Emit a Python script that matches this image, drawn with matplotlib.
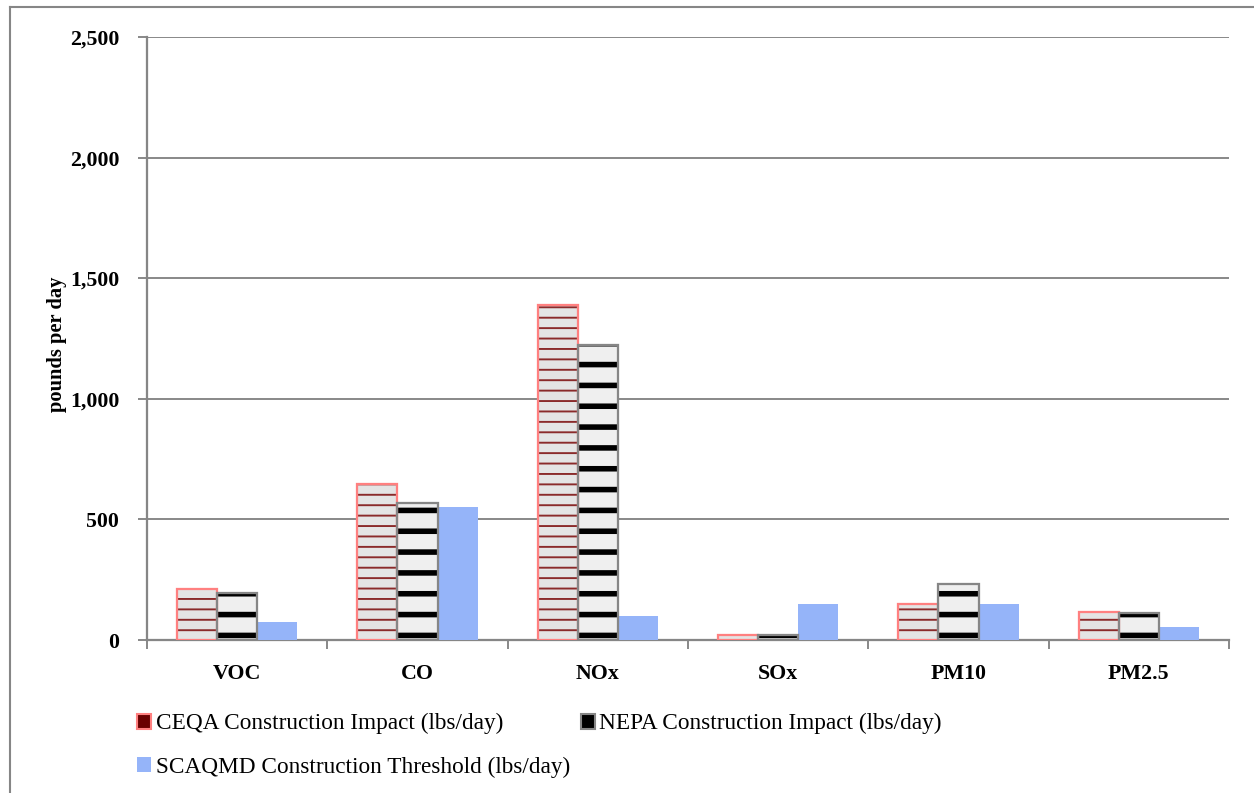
import matplotlib
matplotlib.use("Agg")
import matplotlib.pyplot as plt
import numpy as np
from matplotlib.patches import Patch
from matplotlib.lines import Line2D
from matplotlib.ticker import FuncFormatter, MultipleLocator

categories = ['VOC', 'CO', 'NOx', 'SOx', 'PM10', 'PM2.5']
ceqa = [211, 645, 1390, 20, 149, 115]
nepa = [195, 568, 1223, 20, 232, 112]
scaqmd = [75, 550, 100, 150, 150, 55]

labels = ['CEQA Construction Impact (lbs/day)',
          'NEPA Construction Impact (lbs/day)',
          'SCAQMD Construction Threshold (lbs/day)']

DPI = 125
plt.rcParams['font.family'] = ['Liberation Serif', 'DejaVu Serif']

fig = plt.figure(figsize=(1254 / DPI, 793 / DPI), dpi=DPI)
ax = fig.add_axes([147 / 1254, 1 - 640 / 793, 1082 / 1254, 603 / 793])

x = np.arange(len(categories))
w = 0.222
grey = '#868686'


def hatched(xpos, vals, fill, hcolor, hatch, hlw):
    with plt.rc_context({'hatch.linewidth': hlw}):
        bars = ax.bar(xpos, vals, w, color=fill, edgecolor=hcolor,
                      hatch=hatch, linewidth=0, zorder=3)
    for b in bars:
        try:
            b.set_hatch_linewidth(hlw)
        except AttributeError:
            pass
    return bars


# CEQA: light grey with thin dark red stripes, light red outline
hatched(x - w, ceqa, '#e4e4e4', '#8a2a2a', '--', 1.1)
ax.bar(x - w, ceqa, w, fill=False, edgecolor='#ff8080', linewidth=1.3, zorder=4)

# NEPA: near white with thick black stripes, grey outline
hatched(x, nepa, '#efefef', 'black', '-', 3.2)
ax.bar(x, nepa, w, fill=False, edgecolor=grey, linewidth=1.3, zorder=4)

# SCAQMD threshold
ax.bar(x + w, scaqmd, w, color='#95b4f9', linewidth=0, zorder=3)

ax.set_ylim(0, 2500)
ax.set_xlim(-0.5, len(categories) - 0.5)
ax.yaxis.set_major_locator(MultipleLocator(500))
ax.yaxis.set_major_formatter(FuncFormatter(lambda v, p: f'{int(v):,}'))
ax.grid(axis='y', color=grey, linewidth=1.1, zorder=0)
ax.set_axisbelow(True)

ax.set_xticks(x)
ax.set_xticklabels(categories, fontweight='bold', fontsize=12.6)
ax.set_xticks(np.arange(-0.5, len(categories)), minor=True)
ax.tick_params(axis='x', which='major', length=0, pad=14)
ax.tick_params(axis='x', which='minor', length=5, color=grey, width=1.1)
ax.tick_params(axis='y', length=5, color=grey, width=1.1, pad=11, labelsize=12.6)
for t in ax.get_yticklabels():
    t.set_fontweight('bold')

for s in ['top', 'right']:
    ax.spines[s].set_visible(False)
for s in ['left', 'bottom']:
    ax.spines[s].set_color(grey)
    ax.spines[s].set_linewidth(1.3)

ax.set_ylabel('pounds per day', fontweight='bold', fontsize=11.8)
ax.yaxis.set_label_coords(-0.074, 0.49)

h_ceqa = Patch(facecolor='#6a0000', edgecolor='#ff8080', linewidth=1.2)
h_nepa = Patch(facecolor='black', edgecolor=grey, linewidth=1.2)
h_scaq = Patch(facecolor='#95b4f9', edgecolor='none')
# column-major fill: CEQA, SCAQMD in column 1, NEPA in column 2
fig.legend([h_ceqa, h_scaq, h_nepa], [labels[0], labels[2], labels[1]],
           loc='upper left', bbox_to_anchor=(128 / 1254, 1 - 704 / 793),
           ncol=2, frameon=False, fontsize=13.4, handlelength=0.6, handleheight=0.6,
           handletextpad=0.2, columnspacing=0.45, labelspacing=0.95, borderaxespad=0)

# outer frame of the chart area
fig.add_artist(Line2D([10 / 1254, 10 / 1254], [0, 1 - 7 / 793],
                      transform=fig.transFigure, color=grey, linewidth=1.2))
fig.add_artist(Line2D([10 / 1254, 1], [1 - 7 / 793, 1 - 7 / 793],
                      transform=fig.transFigure, color=grey, linewidth=1.2))

fig.savefig('out.png', dpi=DPI, facecolor='white')
